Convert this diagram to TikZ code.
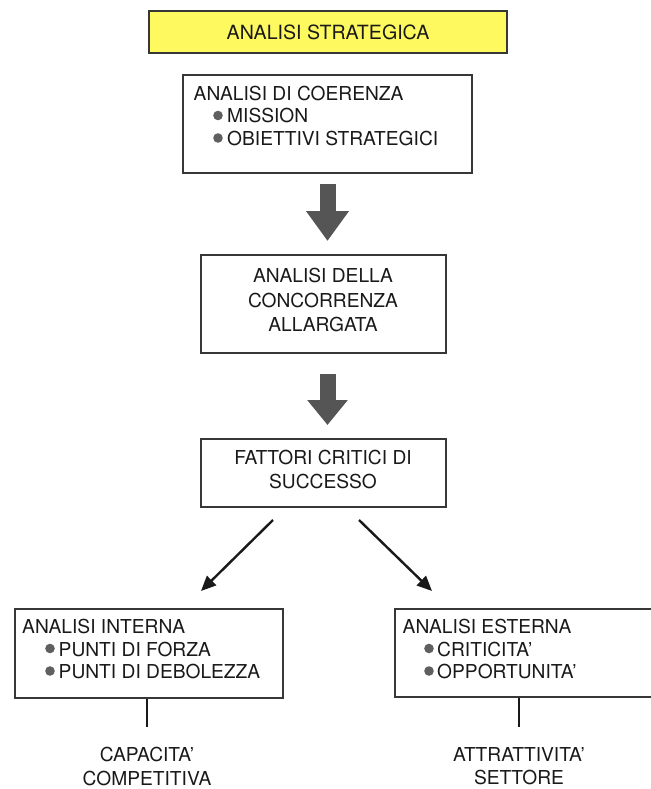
\documentclass[tikz,border=0pt]{standalone}
\usepackage{fontspec}
\setmainfont{TeX Gyre Heros}
\usetikzlibrary{arrows.meta,calc}
\definecolor{titleyellow}{RGB}{255,249,96}
\definecolor{framegray}{RGB}{55,55,55}
\definecolor{arrowgray}{RGB}{85,85,85}
\definecolor{bulletgray}{RGB}{95,95,95}
\definecolor{inkblack}{RGB}{25,25,25}

\begin{document}
\begin{tikzpicture}[x=1pt,y=-1pt,
  every node/.style={font=\fontsize{19.2}{24}\selectfont, text=inkblack},
  frame/.style={draw=framegray, line width=2pt, inner sep=0pt},
  txt/.style={inner sep=0pt, anchor=base west},
  ctxt/.style={inner sep=0pt, align=center, anchor=north},
  bigarrow/.style={draw=arrowgray, line width=16pt},
  thinarrow/.style={draw=inkblack, line width=2.4pt, -{Triangle[length=15pt,width=13pt]}},
  stem/.style={draw=inkblack, line width=2.6pt},
  dotmark/.style={fill=bulletgray}
]
\useasboundingbox (0,0) rectangle (650,789);

% title
\node[frame, fill=titleyellow, minimum width=358pt, minimum height=42pt,
  font=\fontsize{19.6}{24}\selectfont] (top) at (328,32) {ANALISI STRATEGICA};

% coherence analysis
\node[frame, minimum width=289pt, minimum height=98pt] (coer) at (327.5,124) {};
\node[txt] (coerT) at (193.5,100.5) {ANALISI DI COERENZA};
\fill[dotmark] (218,115.5) circle (4.8pt);
\node[txt] (coerA) at (227,123) {MISSION};
\fill[dotmark] (218,138) circle (4.8pt);
\node[txt] (coerB) at (227,145.5) {OBIETTIVI STRATEGICI};

% competition analysis
\node[frame, minimum width=245pt, minimum height=98pt] (conc) at (323.5,304) {};
\node[ctxt, font=\fontsize{19.2}{24.3}\selectfont] (concT) at (323,268.2) {ANALISI DELLA\\CONCORRENZA\\ALLARGATA};

% critical success factors
\node[frame, minimum width=245pt, minimum height=68pt] (fcs) at (323.5,473) {};
\node[ctxt] (fcsT) at (323,450.2) {FATTORI CRITICI DI\\SUCCESSO};

% internal analysis
\node[frame, minimum width=268pt, minimum height=89pt] (intn) at (149,653.5) {};
\node[txt] (intnT) at (22,633) {ANALISI INTERNA};
\fill[dotmark] (50,648.5) circle (4.8pt);
\node[txt] (intnA) at (58.5,656) {PUNTI DI FORZA};
\fill[dotmark] (50,671) circle (4.8pt);
\node[txt] (intnB) at (58.5,678.5) {PUNTI DI DEBOLEZZA};

% external analysis
\node[frame, minimum width=260pt, minimum height=88pt] (estn) at (525,653) {};
\node[txt] (estnT) at (402.5,633) {ANALISI ESTERNA};
\fill[dotmark] (429,648.5) circle (4.8pt);
\node[txt] (estnA) at (437,656) {CRITICITA'};
\fill[dotmark] (429,671) circle (4.8pt);
\node[txt] (estnB) at (437,678.5) {OPPORTUNITA'};

% outcomes
\node[ctxt, font=\fontsize{19.2}{23.5}\selectfont] (capl) at (147,747) {CAPACITA'\\COMPETITIVA};
\node[ctxt, font=\fontsize{19.2}{23.5}\selectfont] (attl) at (519,747) {ATTRATTIVITA'\\SETTORE};

% block arrows
\draw[bigarrow, shorten <=10pt, shorten >=13pt, -{Triangle[length=30pt,width=41pt]}]
  (coer.south) -- (coer.south |- conc.north);
\draw[bigarrow, shorten <=20pt, shorten >=13pt, -{Triangle[length=25pt,width=39pt]}]
  (conc.south -| coer.south) -- (coer.south |- fcs.north);

% branching arrows
\draw[thinarrow] ($(fcs.south)+(-50.5,12)$) -- ($(intn.north)+(52,-17)$);
\draw[thinarrow] ($(fcs.south)+(35.5,12)$) -- ($(estn.north)+(-93,-17)$);

% stems to outcomes
\draw[stem] (intn.south -| capl.north) -- ([yshift=20pt]capl.north);
\draw[stem] (estn.south -| attl.north) -- ([yshift=20pt]attl.north);
\end{tikzpicture}
\end{document}
